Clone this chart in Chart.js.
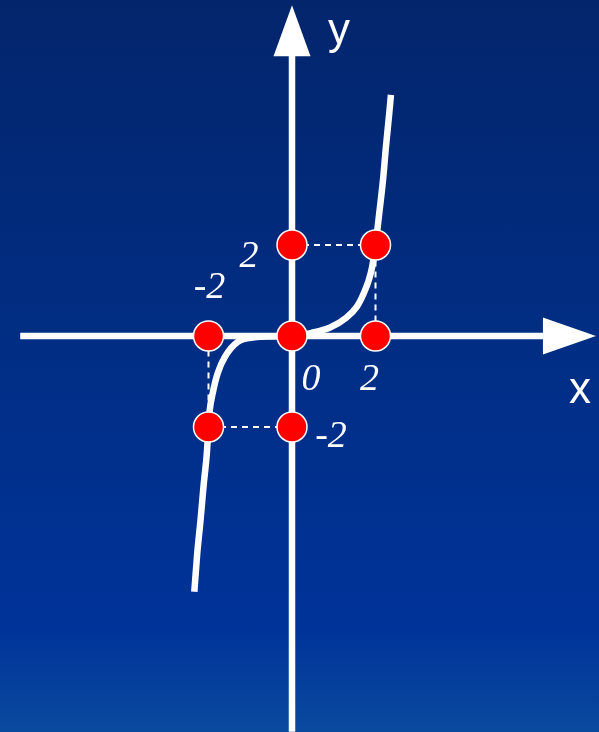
<!DOCTYPE html>
<html>
<head>
<meta charset="utf-8">
<script src="https://cdn.jsdelivr.net/npm/chart.js@4/dist/chart.umd.min.js"></script>
<style>
  html, body { margin: 0; padding: 0; }
  body {
    width: 599px; height: 732px; overflow: hidden;
    background: linear-gradient(to bottom, #03256c 0%, #012d83 45%, #003399 86%, #0a4a9f 100%);
  }
  canvas { display: block; }
</style>
</head>
<body>
<canvas id="graph" width="599" height="732"></canvas>
<script>
// curve
var curveX = [-2.34, -2.27, -2.19, -2.12, -2.04, -2, -1.97, -1.90, -1.78, -1.60, -1.30, -0.90, -0.45, 0,
  0.47, 0.90, 1.30, 1.55, 1.72, 1.84, 1.92, 2, 2.09, 2.18, 2.25, 2.33, 2.37];
var curveY = [-5.62, -4.78, -4.04, -3.31, -2.58, -2, -1.63, -1.26, -0.82, -0.45, -0.13, -0.03, -0.01, 0,
  0.07, 0.18, 0.40, 0.64, 0.94, 1.23, 1.52, 2, 2.70, 3.43, 4.16, 4.90, 5.30];

// red dots
var dotX = [-2, 0, 2, 0, 2, -2, 0];
var dotY = [0, 0, 0, 2, 2, -2, -2];

// dashed guides
var guideUp = [[0, 2], [2, 2], [2, 0]];
var guideDown = [[0, -2], [-2, -2], [-2, 0]];

// tick labels
var xTicks = ['-2', '0', '2'];
var xTickVals = [-2, 0, 2];
var yTicks = ['2', '-2'];
var yTickVals = [2, -2];
var axisNames = ['x', 'y'];

// axis extent (data units)
var xAxisFrom = -6.51, xAxisTo = 7.28;
var yAxisFrom = -8.7, yAxisTo = 7.27;

function pts(xs, ys) {
  return xs.map(function (x, i) { return { x: x, y: ys[i] }; });
}
function pairs(a) {
  return a.map(function (p) { return { x: p[0], y: p[1] }; });
}

// pixel offsets of the labels from their anchor values
var xTickOffs = [[1, -48], [19, 44], [-6, 44]];
var yTickOffs = [[-43, 12], [39, 10]];

var axesPlugin = {
  id: 'axes',
  beforeDatasetsDraw: function (chart) {
    var c = chart.ctx, xs = chart.scales.x, ys = chart.scales.y;
    var x0 = xs.getPixelForValue(0), y0 = ys.getPixelForValue(0);
    var xl = xs.getPixelForValue(xAxisFrom), xr = xs.getPixelForValue(xAxisTo);
    var yt = ys.getPixelForValue(yAxisTo), yb = ys.getPixelForValue(yAxisFrom);
    c.save();
    c.strokeStyle = '#fff';
    c.fillStyle = '#fff';
    c.lineWidth = 6.5;
    c.beginPath();
    c.moveTo(xl, y0); c.lineTo(xr - 45, y0);
    c.moveTo(x0, yb); c.lineTo(x0, yt + 45);
    c.stroke();
    // arrow heads
    c.beginPath();
    c.moveTo(xr, y0); c.lineTo(xr - 53, y0 - 18.5); c.lineTo(xr - 53, y0 + 18.5); c.closePath();
    c.fill();
    c.beginPath();
    c.moveTo(x0, yt); c.lineTo(x0 - 18.5, yt + 51); c.lineTo(x0 + 18.5, yt + 51); c.closePath();
    c.fill();
    c.restore();
  },
  afterDatasetsDraw: function (chart) {
    var c = chart.ctx, xs = chart.scales.x, ys = chart.scales.y;
    var x0 = xs.getPixelForValue(0), y0 = ys.getPixelForValue(0);
    c.save();
    c.fillStyle = '#fff';
    c.textAlign = 'center';
    c.textBaseline = 'middle';
    c.font = 'italic 38px "Liberation Serif", "DejaVu Serif", serif';
    xTicks.forEach(function (t, i) {
      c.fillText(t, xs.getPixelForValue(xTickVals[i]) + xTickOffs[i][0], y0 + xTickOffs[i][1]);
    });
    yTicks.forEach(function (t, i) {
      c.fillText(t, x0 + yTickOffs[i][0], ys.getPixelForValue(yTickVals[i]) + yTickOffs[i][1]);
    });
    c.font = '44px "Liberation Sans", Arial, sans-serif';
    c.fillText(axisNames[0], xs.getPixelForValue(xAxisTo) - 16, y0 + 55);
    c.fillText(axisNames[1], x0 + 47, ys.getPixelForValue(yAxisTo) + 27);
    c.restore();
  }
};

var dashStyle = {
  type: 'line', showLine: true, borderColor: '#fff', borderWidth: 2,
  borderDash: [6, 5], pointRadius: 0, fill: false
};

var config = {
  type: 'scatter',
  data: {
    datasets: [
      Object.assign({ data: pairs(guideUp), order: 3 }, dashStyle),
      Object.assign({ data: pairs(guideDown), order: 3 }, dashStyle),
      {
        type: 'line',
        data: pts(curveX, curveY),
        showLine: true,
        borderColor: '#fff',
        borderWidth: 6.5,
        borderCapStyle: 'butt',
        cubicInterpolationMode: 'monotone',
        pointRadius: 0,
        fill: false,
        order: 2
      },
      {
        data: pts(dotX, dotY),
        backgroundColor: '#ff0000',
        borderColor: '#fff',
        borderWidth: 1.5,
        pointRadius: 15,
        order: 1
      }
    ]
  },
  options: {
    responsive: false,
    animation: false,
    layout: { padding: 0, autoPadding: false },
    plugins: { legend: { display: false }, tooltip: { enabled: false } },
    scales: {
      x: { type: 'linear', display: false, min: -292 / 41.75, max: 307 / 41.75 },
      y: { type: 'linear', display: false, min: -396 / 45.5, max: 336 / 45.5 }
    }
  },
  plugins: [axesPlugin]
};

new Chart(document.getElementById('graph'), config);
</script>
</body>
</html>
